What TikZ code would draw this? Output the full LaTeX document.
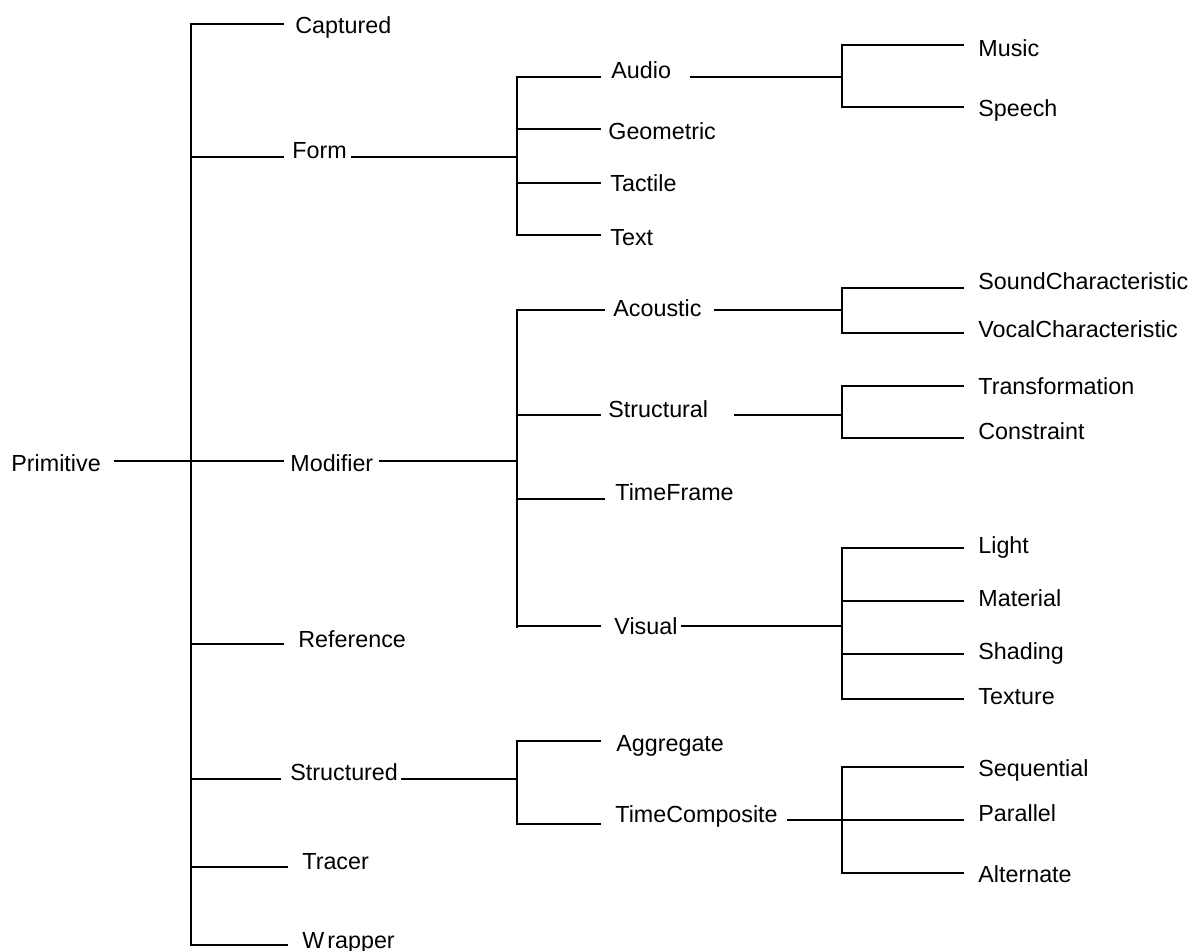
\documentclass[tikz,border=0pt]{standalone}
\usepackage{fontspec}
\setmainfont{Liberation Sans}
\begin{document}
\begin{tikzpicture}[x=0.5pt,y=-0.5pt,
  link/.style={line width=0.8pt, line cap=rect},
  lbl/.style={anchor=base west, inner sep=0pt, font=\fontsize{11.65}{14}\selectfont}]
\useasboundingbox (0,0) rectangle (1195,951);

% ---------- labels ----------
\node[lbl] (Primitive) at (11,472) {Primitive};

\node[lbl] (Captured)   at (295,34)  {Captured};
\node[lbl] (Form)       at (292,159) {Form};
\node[lbl] (Modifier)   at (290,472) {Modifier};
\node[lbl] (Reference)  at (298,648) {Reference};
\node[lbl] (Structured) at (290,781) {Structured};
\node[lbl] (Tracer)     at (302,870) {Tracer};
\node[lbl] (Wrapper)    at (302,948) {W\kern1.5pt rapper};

\node[lbl] (Audio)     at (611,79)  {Audio};
\node[lbl] (Geometric) at (608,140) {Geometric};
\node[lbl] (Tactile)   at (610,192) {Tactile};
\node[lbl] (Text)      at (610,246) {Text};

\node[lbl] (Acoustic)   at (613,317) {Acoustic};
\node[lbl] (Structural) at (608,418) {Structural};
\node[lbl] (TimeFrame)  at (615,501) {TimeFrame};
\node[lbl] (Visual)     at (614,635) {Visual};

\node[lbl] (Aggregate)     at (616,752) {Aggregate};
\node[lbl] (TimeComposite) at (615,823) {TimeComposite};

\node[lbl] (Music)  at (978,57)  {Music};
\node[lbl] (Speech) at (978,117) {Speech};
\node[lbl] (SoundCh) at (978,290) {SoundCharacteristic};
\node[lbl] (VocalCh) at (978,338) {VocalCharacteristic};
\node[lbl] (Transformation) at (978,395) {Transformation};
\node[lbl] (Constraint)     at (978,440) {Constraint};
\node[lbl] (Light)    at (978,554) {Light};
\node[lbl] (Material) at (978,607) {Material};
\node[lbl] (Shading)  at (978,660) {Shading};
\node[lbl] (Texture)  at (978,705) {Texture};
\node[lbl] (Sequential) at (978,777) {Sequential};
\node[lbl] (Parallel)   at (978,822) {Parallel};
\node[lbl] (Alternate)  at (978,883) {Alternate};

% ---------- junction points ----------
% root spine
\coordinate (r-top) at (191,24);
\coordinate (r-bot) at (191,945);
\coordinate (r-mid) at (191,461);
% spines of the second level
\coordinate (f-top) at (517,77);  \coordinate (f-bot) at (517,235); \coordinate (f-mid) at (517,157);
\coordinate (m-top) at (517,310); \coordinate (m-bot) at (517,627); \coordinate (m-mid) at (517,461);
\coordinate (s-top) at (517,741); \coordinate (s-bot) at (517,824); \coordinate (s-mid) at (517,779);
% spines of the third level
\coordinate (au-top) at (842,45);  \coordinate (au-bot) at (842,107); \coordinate (au-mid) at (842,77);
\coordinate (ac-top) at (842,288); \coordinate (ac-bot) at (842,333); \coordinate (ac-mid) at (842,310);
\coordinate (st-top) at (842,386); \coordinate (st-bot) at (842,438); \coordinate (st-mid) at (842,415);
\coordinate (vi-top) at (842,548); \coordinate (vi-bot) at (842,699); \coordinate (vi-mid) at (842,626);
\coordinate (tc-top) at (842,767); \coordinate (tc-bot) at (842,873); \coordinate (tc-mid) at (842,820);

% ---------- vertical spines ----------
\draw[link] (r-top) -- (r-bot);
\draw[link] (f-top) -- (f-bot);
\draw[link] (m-top) -- (m-bot);
\draw[link] (s-top) -- (s-bot);
\draw[link] (au-top) -- (au-bot);
\draw[link] (ac-top) -- (ac-bot);
\draw[link] (st-top) -- (st-bot);
\draw[link] (vi-top) -- (vi-bot);
\draw[link] (tc-top) -- (tc-bot);

% ---------- root branches ----------
\draw[link] (115,461) -- (r-mid);
\draw[link] (r-top) -- (283,24);
\draw[link] (191,157) -- (283,157);
\draw[link] (r-mid) -- (283,461);
\draw[link] (191,644) -- (283,644);
\draw[link] (191,779) -- (280,779);
\draw[link] (193,867) -- (287,867);
\draw[link] (193,945) -- (287,945);

% parent-to-spine links
\draw[link] (352,157) -- (f-mid);
\draw[link] (380,461) -- (m-mid);
\draw[link] (402,779) -- (s-mid);

% ---------- Form branches ----------
\draw[link] (f-top) -- (600,77);
\draw[link] (517,129) -- (600,129);
\draw[link] (517,183) -- (600,183);
\draw[link] (f-bot) -- (600,235);
\draw[link] (691,77) -- (au-mid);
\draw[link] (au-top) -- (963,45);
\draw[link] (au-bot) -- (963,107);

% ---------- Modifier branches ----------
\draw[link] (m-top) -- (604,310);
\draw[link] (517,415) -- (600,415);
\draw[link] (517,499) -- (604,499);
\draw[link] (517,626) -- (600,626);
\draw[link] (715,310) -- (ac-mid);
\draw[link] (735,415) -- (st-mid);
\draw[link] (682,626) -- (vi-mid);
\draw[link] (ac-top) -- (963,288);
\draw[link] (ac-bot) -- (963,333);
\draw[link] (st-top) -- (963,386);
\draw[link] (st-bot) -- (963,438);
\draw[link] (vi-top) -- (963,548);
\draw[link] (842,601) -- (963,601);
\draw[link] (842,654) -- (963,654);
\draw[link] (vi-bot) -- (963,699);

% ---------- Structured branches ----------
\draw[link] (s-top) -- (600,741);
\draw[link] (s-bot) -- (600,824);
\draw[link] (788,820) -- (tc-mid);
\draw[link] (tc-top) -- (963,767);
\draw[link] (tc-mid) -- (963,820);
\draw[link] (tc-bot) -- (963,873);
\end{tikzpicture}
\end{document}
